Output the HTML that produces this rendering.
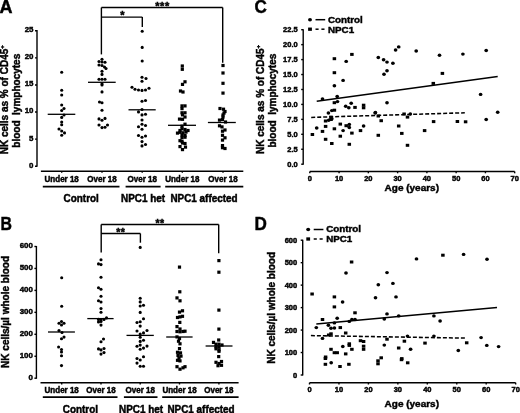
<!DOCTYPE html>
<html><head><meta charset="utf-8"><style>
html,body{margin:0;padding:0;background:#fff;}
svg{display:block;filter:blur(0.4px);}
</style></head><body>
<svg width="520" height="413" viewBox="0 0 520 413" fill="#000">
<text x="-0.50" y="12.80" font-size="18" text-anchor="start" font-family="Liberation Sans" font-weight="bold" stroke="#000" stroke-width="0.45" >A</text>
<line x1="37.00" y1="30.00" x2="37.00" y2="166.70" stroke="#000" stroke-width="1.4"/>
<line x1="35.00" y1="30.80" x2="37.00" y2="30.80" stroke="#000" stroke-width="1.4"/>
<text x="33.50" y="32.20" font-size="7.9" text-anchor="end" font-family="Liberation Sans" font-weight="bold" stroke="#000" stroke-width="0.45" >25</text>
<line x1="35.00" y1="57.88" x2="37.00" y2="57.88" stroke="#000" stroke-width="1.4"/>
<text x="33.50" y="59.28" font-size="7.9" text-anchor="end" font-family="Liberation Sans" font-weight="bold" stroke="#000" stroke-width="0.45" >20</text>
<line x1="35.00" y1="84.96" x2="37.00" y2="84.96" stroke="#000" stroke-width="1.4"/>
<text x="33.50" y="86.36" font-size="7.9" text-anchor="end" font-family="Liberation Sans" font-weight="bold" stroke="#000" stroke-width="0.45" >15</text>
<line x1="35.00" y1="112.04" x2="37.00" y2="112.04" stroke="#000" stroke-width="1.4"/>
<text x="33.50" y="113.44" font-size="7.9" text-anchor="end" font-family="Liberation Sans" font-weight="bold" stroke="#000" stroke-width="0.45" >10</text>
<line x1="35.00" y1="139.12" x2="37.00" y2="139.12" stroke="#000" stroke-width="1.4"/>
<text x="33.50" y="140.52" font-size="7.9" text-anchor="end" font-family="Liberation Sans" font-weight="bold" stroke="#000" stroke-width="0.45" >5</text>
<line x1="35.00" y1="166.20" x2="37.00" y2="166.20" stroke="#000" stroke-width="1.4"/>
<text x="33.50" y="167.60" font-size="7.9" text-anchor="end" font-family="Liberation Sans" font-weight="bold" stroke="#000" stroke-width="0.45" >0</text>
<line x1="40.90" y1="171.20" x2="243.30" y2="171.20" stroke="#000" stroke-width="1.4"/>
<line x1="61.70" y1="171.20" x2="61.70" y2="172.80" stroke="#000" stroke-width="1.4"/>
<line x1="102.00" y1="171.20" x2="102.00" y2="172.80" stroke="#000" stroke-width="1.4"/>
<line x1="142.20" y1="171.20" x2="142.20" y2="172.80" stroke="#000" stroke-width="1.4"/>
<line x1="182.30" y1="171.20" x2="182.30" y2="172.80" stroke="#000" stroke-width="1.4"/>
<line x1="223.00" y1="171.20" x2="223.00" y2="172.80" stroke="#000" stroke-width="1.4"/>
<text transform="translate(61.70,181.60) scale(1.0,1.04)" font-size="8.0" text-anchor="middle" font-family="Liberation Sans" font-weight="bold" stroke="#000" stroke-width="0.45" >Under 18</text>
<text transform="translate(102.00,181.60) scale(1.0,1.04)" font-size="8.0" text-anchor="middle" font-family="Liberation Sans" font-weight="bold" stroke="#000" stroke-width="0.45" >Over 18</text>
<text transform="translate(142.20,181.60) scale(1.0,1.04)" font-size="8.0" text-anchor="middle" font-family="Liberation Sans" font-weight="bold" stroke="#000" stroke-width="0.45" >Over 18</text>
<text transform="translate(182.30,181.60) scale(1.0,1.04)" font-size="8.0" text-anchor="middle" font-family="Liberation Sans" font-weight="bold" stroke="#000" stroke-width="0.45" >Under 18</text>
<text transform="translate(223.00,181.60) scale(1.0,1.04)" font-size="8.0" text-anchor="middle" font-family="Liberation Sans" font-weight="bold" stroke="#000" stroke-width="0.45" >Over 18</text>
<line x1="42.80" y1="186.70" x2="119.50" y2="186.70" stroke="#000" stroke-width="1.8"/>
<line x1="125.60" y1="186.70" x2="160.60" y2="186.70" stroke="#000" stroke-width="1.8"/>
<line x1="165.20" y1="186.70" x2="243.30" y2="186.70" stroke="#000" stroke-width="1.8"/>
<text transform="translate(81.20,201.80) scale(1.0,1.08)" font-size="9.9" text-anchor="middle" font-family="Liberation Sans" font-weight="bold" stroke="#000" stroke-width="0.45" >Control</text>
<text transform="translate(143.00,201.80) scale(1.0,1.08)" font-size="9.9" text-anchor="middle" font-family="Liberation Sans" font-weight="bold" stroke="#000" stroke-width="0.45" >NPC1 het</text>
<text transform="translate(204.00,201.80) scale(1.0,1.08)" font-size="9.9" text-anchor="middle" font-family="Liberation Sans" font-weight="bold" stroke="#000" stroke-width="0.45" >NPC1 affected</text>
<line x1="101.40" y1="7.50" x2="222.70" y2="7.50" stroke="#000" stroke-width="1.4"/>
<line x1="101.40" y1="7.50" x2="101.40" y2="54.40" stroke="#000" stroke-width="1.4"/>
<line x1="222.70" y1="7.50" x2="222.70" y2="62.70" stroke="#000" stroke-width="1.4"/>
<line x1="101.40" y1="17.10" x2="142.30" y2="17.10" stroke="#000" stroke-width="1.4"/>
<line x1="142.30" y1="17.10" x2="142.30" y2="27.00" stroke="#000" stroke-width="1.4"/>
<text x="162.50" y="9.60" font-size="11" text-anchor="middle" font-family="Liberation Sans" font-weight="bold" stroke="#000" stroke-width="0.45" letter-spacing="0.6">***</text>
<text x="122.30" y="19.00" font-size="11" text-anchor="middle" font-family="Liberation Sans" font-weight="bold" stroke="#000" stroke-width="0.45" >*</text>
<line x1="47.70" y1="114.30" x2="75.30" y2="114.30" stroke="#000" stroke-width="1.3"/>
<line x1="88.00" y1="82.30" x2="115.70" y2="82.30" stroke="#000" stroke-width="1.3"/>
<line x1="128.50" y1="109.80" x2="155.70" y2="109.80" stroke="#000" stroke-width="1.3"/>
<line x1="168.00" y1="125.30" x2="196.00" y2="125.30" stroke="#000" stroke-width="1.3"/>
<line x1="207.90" y1="122.50" x2="235.80" y2="122.50" stroke="#000" stroke-width="1.3"/>
<text transform="translate(8,154.3) rotate(-90)" font-size="10" font-family="Liberation Sans" font-weight="bold" stroke="#000" stroke-width="0.45">NK cells as % of CD45<tspan font-size="6" dy="-4">+</tspan></text>
<text transform="translate(19.8,147.7) rotate(-90)" font-size="10" font-family="Liberation Sans" font-weight="bold" stroke="#000" stroke-width="0.45">blood&#160; lymphocytes</text>
<circle cx="61.7" cy="72.2" r="1.55"/>
<circle cx="61.7" cy="90.3" r="1.55"/>
<circle cx="61.7" cy="95" r="1.55"/>
<circle cx="61.7" cy="105" r="1.55"/>
<circle cx="64" cy="108.5" r="1.55"/>
<circle cx="61.7" cy="110.5" r="1.55"/>
<circle cx="64" cy="115" r="1.55"/>
<circle cx="61.7" cy="117.4" r="1.55"/>
<circle cx="61.7" cy="122" r="1.55"/>
<circle cx="61.7" cy="124.8" r="1.55"/>
<circle cx="59" cy="129" r="1.55"/>
<circle cx="61.7" cy="131" r="1.55"/>
<circle cx="64.5" cy="132.9" r="1.55"/>
<circle cx="61.7" cy="135.3" r="1.55"/>
<circle cx="102" cy="59.3" r="1.55"/>
<circle cx="99" cy="61.5" r="1.55"/>
<circle cx="102" cy="62" r="1.55"/>
<circle cx="105" cy="62.3" r="1.55"/>
<circle cx="99" cy="65" r="1.55"/>
<circle cx="102" cy="65.5" r="1.55"/>
<circle cx="104.5" cy="67" r="1.55"/>
<circle cx="106" cy="68.5" r="1.55"/>
<circle cx="102" cy="71.2" r="1.55"/>
<circle cx="102" cy="74.4" r="1.55"/>
<circle cx="99" cy="79.2" r="1.55"/>
<circle cx="102" cy="79.2" r="1.55"/>
<circle cx="105" cy="79.2" r="1.55"/>
<circle cx="102" cy="83.8" r="1.55"/>
<circle cx="102" cy="85" r="1.55"/>
<circle cx="102" cy="91.9" r="1.55"/>
<circle cx="99.5" cy="102" r="1.55"/>
<circle cx="102" cy="102.7" r="1.55"/>
<circle cx="102" cy="110.2" r="1.55"/>
<circle cx="99" cy="118.9" r="1.55"/>
<circle cx="102" cy="120.2" r="1.55"/>
<circle cx="105" cy="118.4" r="1.55"/>
<circle cx="99" cy="125" r="1.55"/>
<circle cx="102" cy="127.6" r="1.55"/>
<circle cx="105" cy="127.2" r="1.55"/>
<circle cx="107.5" cy="125" r="1.55"/>
<circle cx="142.2" cy="31.3" r="1.55"/>
<circle cx="142.2" cy="47.4" r="1.55"/>
<circle cx="142.2" cy="61" r="1.55"/>
<circle cx="142" cy="77.3" r="1.55"/>
<circle cx="146" cy="78.5" r="1.55"/>
<circle cx="142" cy="81.2" r="1.55"/>
<circle cx="132" cy="87.2" r="1.55"/>
<circle cx="135" cy="89.2" r="1.55"/>
<circle cx="138.5" cy="90" r="1.55"/>
<circle cx="142" cy="90.4" r="1.55"/>
<circle cx="145.5" cy="90" r="1.55"/>
<circle cx="149" cy="88.2" r="1.55"/>
<circle cx="142" cy="101.3" r="1.55"/>
<circle cx="145.5" cy="100.5" r="1.55"/>
<circle cx="142" cy="109.5" r="1.55"/>
<circle cx="138.5" cy="111.9" r="1.55"/>
<circle cx="142" cy="114.9" r="1.55"/>
<circle cx="145.5" cy="114.3" r="1.55"/>
<circle cx="142" cy="120" r="1.55"/>
<circle cx="142" cy="124.3" r="1.55"/>
<circle cx="145.5" cy="125.5" r="1.55"/>
<circle cx="138.5" cy="126.8" r="1.55"/>
<circle cx="142" cy="129.2" r="1.55"/>
<circle cx="138.5" cy="135.5" r="1.55"/>
<circle cx="142" cy="137.3" r="1.55"/>
<circle cx="145.5" cy="136" r="1.55"/>
<circle cx="142" cy="141.6" r="1.55"/>
<circle cx="142" cy="145.9" r="1.55"/>
<circle cx="145.5" cy="144.5" r="1.55"/>
<rect x="180.70" y="64.40" width="3.2" height="3.2"/>
<rect x="180.70" y="67.70" width="3.2" height="3.2"/>
<rect x="183.40" y="80.20" width="3.2" height="3.2"/>
<rect x="180.90" y="82.80" width="3.2" height="3.2"/>
<rect x="178.90" y="89.40" width="3.2" height="3.2"/>
<rect x="181.40" y="90.40" width="3.2" height="3.2"/>
<rect x="180.40" y="104.30" width="3.2" height="3.2"/>
<rect x="183.40" y="104.30" width="3.2" height="3.2"/>
<rect x="180.40" y="107.00" width="3.2" height="3.2"/>
<rect x="180.40" y="111.20" width="3.2" height="3.2"/>
<rect x="183.40" y="111.20" width="3.2" height="3.2"/>
<rect x="180.90" y="113.20" width="3.2" height="3.2"/>
<rect x="183.40" y="115.40" width="3.2" height="3.2"/>
<rect x="177.90" y="117.50" width="3.2" height="3.2"/>
<rect x="180.90" y="117.70" width="3.2" height="3.2"/>
<rect x="183.40" y="122.60" width="3.2" height="3.2"/>
<rect x="180.40" y="124.60" width="3.2" height="3.2"/>
<rect x="180.40" y="127.20" width="3.2" height="3.2"/>
<rect x="183.40" y="127.90" width="3.2" height="3.2"/>
<rect x="178.40" y="128.90" width="3.2" height="3.2"/>
<rect x="186.40" y="128.90" width="3.2" height="3.2"/>
<rect x="175.90" y="131.50" width="3.2" height="3.2"/>
<rect x="178.40" y="130.70" width="3.2" height="3.2"/>
<rect x="181.40" y="131.20" width="3.2" height="3.2"/>
<rect x="184.40" y="130.50" width="3.2" height="3.2"/>
<rect x="180.40" y="133.30" width="3.2" height="3.2"/>
<rect x="183.40" y="134.00" width="3.2" height="3.2"/>
<rect x="180.40" y="136.00" width="3.2" height="3.2"/>
<rect x="183.40" y="135.60" width="3.2" height="3.2"/>
<rect x="178.40" y="139.10" width="3.2" height="3.2"/>
<rect x="180.40" y="139.70" width="3.2" height="3.2"/>
<rect x="180.90" y="141.40" width="3.2" height="3.2"/>
<rect x="183.40" y="141.90" width="3.2" height="3.2"/>
<rect x="178.40" y="145.00" width="3.2" height="3.2"/>
<rect x="183.90" y="145.50" width="3.2" height="3.2"/>
<rect x="180.90" y="148.00" width="3.2" height="3.2"/>
<rect x="221.40" y="63.90" width="3.2" height="3.2"/>
<rect x="221.40" y="71.40" width="3.2" height="3.2"/>
<rect x="221.40" y="81.70" width="3.2" height="3.2"/>
<rect x="221.40" y="91.50" width="3.2" height="3.2"/>
<rect x="218.40" y="106.90" width="3.2" height="3.2"/>
<rect x="221.90" y="107.60" width="3.2" height="3.2"/>
<rect x="223.40" y="109.90" width="3.2" height="3.2"/>
<rect x="222.40" y="111.50" width="3.2" height="3.2"/>
<rect x="221.40" y="113.40" width="3.2" height="3.2"/>
<rect x="221.40" y="115.40" width="3.2" height="3.2"/>
<rect x="217.90" y="118.50" width="3.2" height="3.2"/>
<rect x="220.90" y="117.90" width="3.2" height="3.2"/>
<rect x="223.90" y="120.40" width="3.2" height="3.2"/>
<rect x="217.90" y="124.20" width="3.2" height="3.2"/>
<rect x="220.40" y="125.30" width="3.2" height="3.2"/>
<rect x="223.40" y="128.40" width="3.2" height="3.2"/>
<rect x="220.90" y="129.60" width="3.2" height="3.2"/>
<rect x="220.90" y="133.70" width="3.2" height="3.2"/>
<rect x="223.40" y="136.20" width="3.2" height="3.2"/>
<rect x="220.90" y="138.50" width="3.2" height="3.2"/>
<rect x="220.90" y="144.00" width="3.2" height="3.2"/>
<rect x="220.90" y="146.10" width="3.2" height="3.2"/>
<rect x="223.40" y="146.90" width="3.2" height="3.2"/>
<text transform="translate(0.60,230.20) scale(0.88,1.0)" font-size="18" text-anchor="start" font-family="Liberation Sans" font-weight="bold" stroke="#000" stroke-width="0.45" >B</text>
<line x1="36.40" y1="246.00" x2="36.40" y2="378.80" stroke="#000" stroke-width="1.4"/>
<line x1="34.40" y1="246.50" x2="36.40" y2="246.50" stroke="#000" stroke-width="1.4"/>
<text x="32.90" y="247.90" font-size="7.9" text-anchor="end" font-family="Liberation Sans" font-weight="bold" stroke="#000" stroke-width="0.45" >600</text>
<line x1="34.40" y1="268.45" x2="36.40" y2="268.45" stroke="#000" stroke-width="1.4"/>
<text x="32.90" y="269.85" font-size="7.9" text-anchor="end" font-family="Liberation Sans" font-weight="bold" stroke="#000" stroke-width="0.45" >500</text>
<line x1="34.40" y1="290.40" x2="36.40" y2="290.40" stroke="#000" stroke-width="1.4"/>
<text x="32.90" y="291.80" font-size="7.9" text-anchor="end" font-family="Liberation Sans" font-weight="bold" stroke="#000" stroke-width="0.45" >400</text>
<line x1="34.40" y1="312.35" x2="36.40" y2="312.35" stroke="#000" stroke-width="1.4"/>
<text x="32.90" y="313.75" font-size="7.9" text-anchor="end" font-family="Liberation Sans" font-weight="bold" stroke="#000" stroke-width="0.45" >300</text>
<line x1="34.40" y1="334.30" x2="36.40" y2="334.30" stroke="#000" stroke-width="1.4"/>
<text x="32.90" y="335.70" font-size="7.9" text-anchor="end" font-family="Liberation Sans" font-weight="bold" stroke="#000" stroke-width="0.45" >200</text>
<line x1="34.40" y1="356.25" x2="36.40" y2="356.25" stroke="#000" stroke-width="1.4"/>
<text x="32.90" y="357.65" font-size="7.9" text-anchor="end" font-family="Liberation Sans" font-weight="bold" stroke="#000" stroke-width="0.45" >100</text>
<line x1="34.40" y1="378.20" x2="36.40" y2="378.20" stroke="#000" stroke-width="1.4"/>
<text x="32.90" y="379.60" font-size="7.9" text-anchor="end" font-family="Liberation Sans" font-weight="bold" stroke="#000" stroke-width="0.45" >0</text>
<line x1="40.50" y1="382.70" x2="238.60" y2="382.70" stroke="#000" stroke-width="1.4"/>
<line x1="61.70" y1="382.70" x2="61.70" y2="384.50" stroke="#000" stroke-width="1.4"/>
<line x1="101.00" y1="382.70" x2="101.00" y2="384.50" stroke="#000" stroke-width="1.4"/>
<line x1="140.20" y1="382.70" x2="140.20" y2="384.50" stroke="#000" stroke-width="1.4"/>
<line x1="179.50" y1="382.70" x2="179.50" y2="384.50" stroke="#000" stroke-width="1.4"/>
<line x1="218.90" y1="382.70" x2="218.90" y2="384.50" stroke="#000" stroke-width="1.4"/>
<text transform="translate(61.70,393.00) scale(1.0,1.04)" font-size="8.0" text-anchor="middle" font-family="Liberation Sans" font-weight="bold" stroke="#000" stroke-width="0.45" >Under 18</text>
<text transform="translate(101.00,393.00) scale(1.0,1.04)" font-size="8.0" text-anchor="middle" font-family="Liberation Sans" font-weight="bold" stroke="#000" stroke-width="0.45" >Over 18</text>
<text transform="translate(140.20,393.00) scale(1.0,1.04)" font-size="8.0" text-anchor="middle" font-family="Liberation Sans" font-weight="bold" stroke="#000" stroke-width="0.45" >Over 18</text>
<text transform="translate(179.50,393.00) scale(1.0,1.04)" font-size="8.0" text-anchor="middle" font-family="Liberation Sans" font-weight="bold" stroke="#000" stroke-width="0.45" >Under 18</text>
<text transform="translate(218.90,393.00) scale(1.0,1.04)" font-size="8.0" text-anchor="middle" font-family="Liberation Sans" font-weight="bold" stroke="#000" stroke-width="0.45" >Over 18</text>
<line x1="42.80" y1="397.10" x2="117.50" y2="397.10" stroke="#000" stroke-width="1.8"/>
<line x1="123.90" y1="397.10" x2="157.50" y2="397.10" stroke="#000" stroke-width="1.8"/>
<line x1="162.20" y1="397.10" x2="238.60" y2="397.10" stroke="#000" stroke-width="1.8"/>
<text transform="translate(80.40,413.10) scale(1.0,1.08)" font-size="9.9" text-anchor="middle" font-family="Liberation Sans" font-weight="bold" stroke="#000" stroke-width="0.45" >Control</text>
<text transform="translate(141.00,413.10) scale(1.0,1.08)" font-size="9.9" text-anchor="middle" font-family="Liberation Sans" font-weight="bold" stroke="#000" stroke-width="0.45" >NPC1 het</text>
<text transform="translate(201.00,413.10) scale(1.0,1.08)" font-size="9.9" text-anchor="middle" font-family="Liberation Sans" font-weight="bold" stroke="#000" stroke-width="0.45" >NPC1 affected</text>
<line x1="101.20" y1="224.50" x2="218.70" y2="224.50" stroke="#000" stroke-width="1.4"/>
<line x1="101.20" y1="224.50" x2="101.20" y2="252.60" stroke="#000" stroke-width="1.4"/>
<line x1="218.70" y1="224.50" x2="218.70" y2="253.20" stroke="#000" stroke-width="1.4"/>
<line x1="101.20" y1="233.50" x2="140.40" y2="233.50" stroke="#000" stroke-width="1.4"/>
<line x1="140.40" y1="233.50" x2="140.40" y2="242.70" stroke="#000" stroke-width="1.4"/>
<text x="160.00" y="227.00" font-size="10.5" text-anchor="middle" font-family="Liberation Sans" font-weight="bold" stroke="#000" stroke-width="0.45" letter-spacing="0.5">**</text>
<text x="120.80" y="236.30" font-size="10.5" text-anchor="middle" font-family="Liberation Sans" font-weight="bold" stroke="#000" stroke-width="0.45" letter-spacing="0.5">**</text>
<line x1="48.00" y1="332.00" x2="74.90" y2="332.00" stroke="#000" stroke-width="1.3"/>
<line x1="87.30" y1="318.60" x2="113.60" y2="318.60" stroke="#000" stroke-width="1.3"/>
<line x1="126.50" y1="335.40" x2="153.80" y2="335.40" stroke="#000" stroke-width="1.3"/>
<line x1="166.20" y1="337.00" x2="192.60" y2="337.00" stroke="#000" stroke-width="1.3"/>
<line x1="205.60" y1="346.00" x2="232.50" y2="346.00" stroke="#000" stroke-width="1.3"/>
<text transform="translate(8.8,367.9) rotate(-90)" font-size="10" font-family="Liberation Sans" font-weight="bold" stroke="#000" stroke-width="0.45">NK cells/µl whole blood</text>
<circle cx="61.7" cy="277.8" r="1.55"/>
<circle cx="61.7" cy="306.2" r="1.55"/>
<circle cx="59" cy="323.3" r="1.55"/>
<circle cx="61.5" cy="321.5" r="1.55"/>
<circle cx="64" cy="323.3" r="1.55"/>
<circle cx="61.5" cy="325" r="1.55"/>
<circle cx="59" cy="330.6" r="1.55"/>
<circle cx="62" cy="332.5" r="1.55"/>
<circle cx="64" cy="337.1" r="1.55"/>
<circle cx="61.5" cy="338.8" r="1.55"/>
<circle cx="58.6" cy="347" r="1.55"/>
<circle cx="61.5" cy="349.5" r="1.55"/>
<circle cx="61.5" cy="352" r="1.55"/>
<circle cx="61.5" cy="355.8" r="1.55"/>
<circle cx="61.5" cy="365.6" r="1.55"/>
<circle cx="101" cy="259.8" r="1.55"/>
<circle cx="98.5" cy="263.9" r="1.55"/>
<circle cx="101" cy="264.6" r="1.55"/>
<circle cx="101" cy="277.3" r="1.55"/>
<circle cx="98.5" cy="287.7" r="1.55"/>
<circle cx="101" cy="289.3" r="1.55"/>
<circle cx="101" cy="296.2" r="1.55"/>
<circle cx="98.5" cy="300.8" r="1.55"/>
<circle cx="101" cy="302" r="1.55"/>
<circle cx="101" cy="308.5" r="1.55"/>
<circle cx="101" cy="312.2" r="1.55"/>
<circle cx="98.5" cy="319.4" r="1.55"/>
<circle cx="101" cy="319.7" r="1.55"/>
<circle cx="104" cy="319.4" r="1.55"/>
<circle cx="106.5" cy="317.9" r="1.55"/>
<circle cx="98.5" cy="321.9" r="1.55"/>
<circle cx="101" cy="321.5" r="1.55"/>
<circle cx="101" cy="325.1" r="1.55"/>
<circle cx="103.5" cy="339" r="1.55"/>
<circle cx="101" cy="341.7" r="1.55"/>
<circle cx="98.5" cy="348.9" r="1.55"/>
<circle cx="101" cy="349.9" r="1.55"/>
<circle cx="104" cy="348.5" r="1.55"/>
<circle cx="104" cy="352.6" r="1.55"/>
<circle cx="101" cy="354.1" r="1.55"/>
<circle cx="140.2" cy="247.4" r="1.55"/>
<circle cx="140.2" cy="298.2" r="1.55"/>
<circle cx="140.2" cy="301.9" r="1.55"/>
<circle cx="140.2" cy="306" r="1.55"/>
<circle cx="143.5" cy="305.2" r="1.55"/>
<circle cx="140.2" cy="312.4" r="1.55"/>
<circle cx="143.5" cy="318.8" r="1.55"/>
<circle cx="137" cy="322.5" r="1.55"/>
<circle cx="140.2" cy="321.8" r="1.55"/>
<circle cx="140.2" cy="326.1" r="1.55"/>
<circle cx="137" cy="331" r="1.55"/>
<circle cx="143.5" cy="332.9" r="1.55"/>
<circle cx="147" cy="330.5" r="1.55"/>
<circle cx="140.2" cy="334.1" r="1.55"/>
<circle cx="140.2" cy="337.3" r="1.55"/>
<circle cx="140.2" cy="341.4" r="1.55"/>
<circle cx="143.5" cy="340.2" r="1.55"/>
<circle cx="140.2" cy="345.1" r="1.55"/>
<circle cx="137" cy="346.3" r="1.55"/>
<circle cx="143.5" cy="348.1" r="1.55"/>
<circle cx="147" cy="346.1" r="1.55"/>
<circle cx="140.2" cy="349.3" r="1.55"/>
<circle cx="143.5" cy="356.7" r="1.55"/>
<circle cx="137" cy="358.5" r="1.55"/>
<circle cx="140.2" cy="360" r="1.55"/>
<circle cx="137" cy="363.1" r="1.55"/>
<circle cx="140.2" cy="366.2" r="1.55"/>
<circle cx="143.5" cy="366.2" r="1.55"/>
<rect x="177.90" y="265.50" width="3.2" height="3.2"/>
<rect x="178.20" y="290.20" width="3.2" height="3.2"/>
<rect x="175.40" y="296.30" width="3.2" height="3.2"/>
<rect x="178.40" y="299.20" width="3.2" height="3.2"/>
<rect x="180.90" y="309.20" width="3.2" height="3.2"/>
<rect x="177.90" y="310.50" width="3.2" height="3.2"/>
<rect x="175.90" y="315.90" width="3.2" height="3.2"/>
<rect x="178.40" y="315.30" width="3.2" height="3.2"/>
<rect x="180.90" y="314.70" width="3.2" height="3.2"/>
<rect x="178.20" y="320.80" width="3.2" height="3.2"/>
<rect x="175.40" y="325.00" width="3.2" height="3.2"/>
<rect x="178.40" y="327.40" width="3.2" height="3.2"/>
<rect x="175.40" y="329.90" width="3.2" height="3.2"/>
<rect x="178.40" y="330.20" width="3.2" height="3.2"/>
<rect x="181.40" y="329.90" width="3.2" height="3.2"/>
<rect x="183.40" y="329.60" width="3.2" height="3.2"/>
<rect x="175.40" y="335.30" width="3.2" height="3.2"/>
<rect x="177.90" y="336.90" width="3.2" height="3.2"/>
<rect x="176.90" y="339.60" width="3.2" height="3.2"/>
<rect x="178.40" y="342.20" width="3.2" height="3.2"/>
<rect x="177.90" y="347.00" width="3.2" height="3.2"/>
<rect x="175.90" y="350.70" width="3.2" height="3.2"/>
<rect x="178.90" y="351.30" width="3.2" height="3.2"/>
<rect x="176.40" y="353.90" width="3.2" height="3.2"/>
<rect x="179.40" y="354.50" width="3.2" height="3.2"/>
<rect x="177.40" y="356.60" width="3.2" height="3.2"/>
<rect x="175.90" y="358.70" width="3.2" height="3.2"/>
<rect x="178.40" y="359.30" width="3.2" height="3.2"/>
<rect x="175.40" y="365.10" width="3.2" height="3.2"/>
<rect x="178.40" y="367.60" width="3.2" height="3.2"/>
<rect x="181.40" y="366.20" width="3.2" height="3.2"/>
<rect x="183.40" y="365.10" width="3.2" height="3.2"/>
<rect x="217.30" y="259.00" width="3.2" height="3.2"/>
<rect x="217.30" y="270.60" width="3.2" height="3.2"/>
<rect x="217.30" y="308.50" width="3.2" height="3.2"/>
<rect x="217.30" y="327.50" width="3.2" height="3.2"/>
<rect x="217.10" y="338.40" width="3.2" height="3.2"/>
<rect x="211.90" y="340.80" width="3.2" height="3.2"/>
<rect x="214.40" y="342.60" width="3.2" height="3.2"/>
<rect x="217.40" y="342.60" width="3.2" height="3.2"/>
<rect x="220.40" y="343.40" width="3.2" height="3.2"/>
<rect x="214.40" y="345.20" width="3.2" height="3.2"/>
<rect x="217.40" y="345.40" width="3.2" height="3.2"/>
<rect x="214.40" y="347.20" width="3.2" height="3.2"/>
<rect x="217.40" y="348.20" width="3.2" height="3.2"/>
<rect x="217.40" y="349.70" width="3.2" height="3.2"/>
<rect x="217.10" y="355.00" width="3.2" height="3.2"/>
<rect x="214.40" y="360.70" width="3.2" height="3.2"/>
<rect x="219.90" y="359.90" width="3.2" height="3.2"/>
<rect x="217.40" y="361.90" width="3.2" height="3.2"/>
<rect x="219.90" y="363.70" width="3.2" height="3.2"/>
<rect x="216.40" y="364.10" width="3.2" height="3.2"/>
<text transform="translate(254.40,12.70) scale(0.95,1.0)" font-size="18" text-anchor="start" font-family="Liberation Sans" font-weight="bold" stroke="#000" stroke-width="0.45" >C</text>
<line x1="303.20" y1="29.30" x2="303.20" y2="164.70" stroke="#000" stroke-width="1.4"/>
<line x1="301.20" y1="29.70" x2="303.20" y2="29.70" stroke="#000" stroke-width="1.4"/>
<text x="297.70" y="32.30" font-size="7.5" text-anchor="end" font-family="Liberation Sans" font-weight="bold" stroke="#000" stroke-width="0.45" >22.5</text>
<line x1="301.20" y1="44.64" x2="303.20" y2="44.64" stroke="#000" stroke-width="1.4"/>
<text x="297.70" y="47.24" font-size="7.5" text-anchor="end" font-family="Liberation Sans" font-weight="bold" stroke="#000" stroke-width="0.45" >20.0</text>
<line x1="301.20" y1="59.59" x2="303.20" y2="59.59" stroke="#000" stroke-width="1.4"/>
<text x="297.70" y="62.19" font-size="7.5" text-anchor="end" font-family="Liberation Sans" font-weight="bold" stroke="#000" stroke-width="0.45" >17.5</text>
<line x1="301.20" y1="74.53" x2="303.20" y2="74.53" stroke="#000" stroke-width="1.4"/>
<text x="297.70" y="77.13" font-size="7.5" text-anchor="end" font-family="Liberation Sans" font-weight="bold" stroke="#000" stroke-width="0.45" >15.0</text>
<line x1="301.20" y1="89.48" x2="303.20" y2="89.48" stroke="#000" stroke-width="1.4"/>
<text x="297.70" y="92.08" font-size="7.5" text-anchor="end" font-family="Liberation Sans" font-weight="bold" stroke="#000" stroke-width="0.45" >12.5</text>
<line x1="301.20" y1="104.42" x2="303.20" y2="104.42" stroke="#000" stroke-width="1.4"/>
<text x="297.70" y="107.02" font-size="7.5" text-anchor="end" font-family="Liberation Sans" font-weight="bold" stroke="#000" stroke-width="0.45" >10.0</text>
<line x1="301.20" y1="119.37" x2="303.20" y2="119.37" stroke="#000" stroke-width="1.4"/>
<text x="297.70" y="121.97" font-size="7.5" text-anchor="end" font-family="Liberation Sans" font-weight="bold" stroke="#000" stroke-width="0.45" >7.5</text>
<line x1="301.20" y1="134.31" x2="303.20" y2="134.31" stroke="#000" stroke-width="1.4"/>
<text x="297.70" y="136.91" font-size="7.5" text-anchor="end" font-family="Liberation Sans" font-weight="bold" stroke="#000" stroke-width="0.45" >5.0</text>
<line x1="301.20" y1="149.26" x2="303.20" y2="149.26" stroke="#000" stroke-width="1.4"/>
<text x="297.70" y="151.86" font-size="7.5" text-anchor="end" font-family="Liberation Sans" font-weight="bold" stroke="#000" stroke-width="0.45" >2.5</text>
<line x1="301.20" y1="164.20" x2="303.20" y2="164.20" stroke="#000" stroke-width="1.4"/>
<text x="297.70" y="166.80" font-size="7.5" text-anchor="end" font-family="Liberation Sans" font-weight="bold" stroke="#000" stroke-width="0.45" >0.0</text>
<line x1="309.80" y1="171.50" x2="514.69" y2="171.50" stroke="#000" stroke-width="1.4"/>
<line x1="309.80" y1="171.50" x2="309.80" y2="173.30" stroke="#000" stroke-width="1.4"/>
<text x="309.80" y="181.00" font-size="7.5" text-anchor="middle" font-family="Liberation Sans" font-weight="bold" stroke="#000" stroke-width="0.45" >0</text>
<line x1="339.07" y1="171.50" x2="339.07" y2="173.30" stroke="#000" stroke-width="1.4"/>
<text x="339.07" y="181.00" font-size="7.5" text-anchor="middle" font-family="Liberation Sans" font-weight="bold" stroke="#000" stroke-width="0.45" >10</text>
<line x1="368.34" y1="171.50" x2="368.34" y2="173.30" stroke="#000" stroke-width="1.4"/>
<text x="368.34" y="181.00" font-size="7.5" text-anchor="middle" font-family="Liberation Sans" font-weight="bold" stroke="#000" stroke-width="0.45" >20</text>
<line x1="397.61" y1="171.50" x2="397.61" y2="173.30" stroke="#000" stroke-width="1.4"/>
<text x="397.61" y="181.00" font-size="7.5" text-anchor="middle" font-family="Liberation Sans" font-weight="bold" stroke="#000" stroke-width="0.45" >30</text>
<line x1="426.88" y1="171.50" x2="426.88" y2="173.30" stroke="#000" stroke-width="1.4"/>
<text x="426.88" y="181.00" font-size="7.5" text-anchor="middle" font-family="Liberation Sans" font-weight="bold" stroke="#000" stroke-width="0.45" >40</text>
<line x1="456.15" y1="171.50" x2="456.15" y2="173.30" stroke="#000" stroke-width="1.4"/>
<text x="456.15" y="181.00" font-size="7.5" text-anchor="middle" font-family="Liberation Sans" font-weight="bold" stroke="#000" stroke-width="0.45" >50</text>
<line x1="485.42" y1="171.50" x2="485.42" y2="173.30" stroke="#000" stroke-width="1.4"/>
<text x="485.42" y="181.00" font-size="7.5" text-anchor="middle" font-family="Liberation Sans" font-weight="bold" stroke="#000" stroke-width="0.45" >60</text>
<line x1="514.69" y1="171.50" x2="514.69" y2="173.30" stroke="#000" stroke-width="1.4"/>
<text x="514.69" y="181.00" font-size="7.5" text-anchor="middle" font-family="Liberation Sans" font-weight="bold" stroke="#000" stroke-width="0.45" >70</text>
<text transform="translate(411.80,191.30) scale(1.0,0.97)" font-size="10.0" text-anchor="middle" font-family="Liberation Sans" font-weight="bold" stroke="#000" stroke-width="0.45" >Age (years)</text>
<ellipse cx="310.0" cy="19.7" rx="2.0" ry="1.8"/>
<line x1="315.50" y1="19.70" x2="325.20" y2="19.70" stroke="#000" stroke-width="1.5"/>
<text x="328.00" y="22.50" font-size="9.8" text-anchor="start" font-family="Liberation Sans" font-weight="bold" stroke="#000" stroke-width="0.45" >Control</text>
<rect x="308.10" y="27.55" width="3.8" height="3.3"/>
<line x1="315.50" y1="29.20" x2="318.60" y2="29.20" stroke="#000" stroke-width="1.5"/>
<line x1="321.40" y1="29.20" x2="324.50" y2="29.20" stroke="#000" stroke-width="1.5"/>
<text x="328.00" y="32.60" font-size="9.8" text-anchor="start" font-family="Liberation Sans" font-weight="bold" stroke="#000" stroke-width="0.45" >NPC1</text>
<line x1="316.70" y1="101.20" x2="497.70" y2="76.40" stroke="#000" stroke-width="1.55"/>
<line x1="311.20" y1="117.40" x2="464.80" y2="112.80" stroke="#000" stroke-width="1.55" stroke-dasharray="4,2"/>
<rect x="332.65" y="57.20" width="3.5" height="3.0"/>
<rect x="350.15" y="52.90" width="3.5" height="3.0"/>
<ellipse cx="346.2" cy="61.4" rx="1.85" ry="1.7"/>
<ellipse cx="378.3" cy="57.5" rx="1.85" ry="1.7"/>
<rect x="332.65" y="71.20" width="3.5" height="3.0"/>
<ellipse cx="343.1" cy="80.4" rx="1.85" ry="1.7"/>
<ellipse cx="334.4" cy="85.7" rx="1.85" ry="1.7"/>
<ellipse cx="322.5" cy="99" rx="1.85" ry="1.7"/>
<ellipse cx="337.2" cy="96.5" rx="1.85" ry="1.7"/>
<rect x="332.65" y="101.20" width="3.5" height="3.0"/>
<ellipse cx="337.5" cy="101.6" rx="1.85" ry="1.7"/>
<ellipse cx="351.2" cy="103.2" rx="1.85" ry="1.7"/>
<ellipse cx="345.7" cy="106.3" rx="1.85" ry="1.7"/>
<ellipse cx="348.8" cy="107.8" rx="1.85" ry="1.7"/>
<rect x="353.25" y="105.90" width="3.5" height="3.0"/>
<rect x="361.85" y="103.70" width="3.5" height="3.0"/>
<rect x="361.85" y="106.30" width="3.5" height="3.0"/>
<ellipse cx="328.4" cy="113" rx="1.85" ry="1.7"/>
<ellipse cx="331.8" cy="110.6" rx="1.85" ry="1.7"/>
<rect x="332.65" y="108.70" width="3.5" height="3.0"/>
<rect x="329.25" y="115.60" width="3.5" height="3.0"/>
<ellipse cx="331.8" cy="118.7" rx="1.85" ry="1.7"/>
<rect x="323.85" y="119.50" width="3.5" height="3.0"/>
<ellipse cx="328.7" cy="120.2" rx="1.85" ry="1.7"/>
<rect x="329.25" y="118.00" width="3.5" height="3.0"/>
<ellipse cx="375.2" cy="113" rx="1.85" ry="1.7"/>
<rect x="376.55" y="114.50" width="3.5" height="3.0"/>
<ellipse cx="316.7" cy="128" rx="1.85" ry="1.7"/>
<rect x="323.85" y="124.90" width="3.5" height="3.0"/>
<rect x="310.65" y="133.00" width="3.5" height="3.0"/>
<rect x="320.75" y="129.90" width="3.5" height="3.0"/>
<rect x="332.65" y="127.30" width="3.5" height="3.0"/>
<rect x="338.55" y="122.60" width="3.5" height="3.0"/>
<ellipse cx="343.1" cy="130.6" rx="1.85" ry="1.7"/>
<rect x="344.45" y="124.20" width="3.5" height="3.0"/>
<ellipse cx="349.3" cy="124.4" rx="1.85" ry="1.7"/>
<ellipse cx="349.3" cy="127.5" rx="1.85" ry="1.7"/>
<rect x="350.15" y="131.60" width="3.5" height="3.0"/>
<rect x="358.75" y="129.10" width="3.5" height="3.0"/>
<ellipse cx="363.6" cy="126" rx="1.85" ry="1.7"/>
<rect x="323.85" y="137.80" width="3.5" height="3.0"/>
<rect x="338.55" y="134.70" width="3.5" height="3.0"/>
<rect x="330.05" y="142.00" width="3.5" height="3.0"/>
<rect x="347.55" y="142.80" width="3.5" height="3.0"/>
<rect x="376.55" y="133.80" width="3.5" height="3.0"/>
<ellipse cx="383.6" cy="59.8" rx="1.85" ry="1.7"/>
<ellipse cx="387" cy="62.1" rx="1.85" ry="1.7"/>
<ellipse cx="392.9" cy="63.2" rx="1.85" ry="1.7"/>
<ellipse cx="395.6" cy="50" rx="1.85" ry="1.7"/>
<ellipse cx="398.7" cy="46.9" rx="1.85" ry="1.7"/>
<ellipse cx="416.2" cy="51" rx="1.85" ry="1.7"/>
<ellipse cx="439.5" cy="55.2" rx="1.85" ry="1.7"/>
<ellipse cx="387" cy="70.7" rx="1.85" ry="1.7"/>
<ellipse cx="384" cy="74.2" rx="1.85" ry="1.7"/>
<rect x="440.65" y="71.90" width="3.5" height="3.0"/>
<rect x="431.55" y="81.90" width="3.5" height="3.0"/>
<ellipse cx="462.9" cy="54.1" rx="1.85" ry="1.7"/>
<ellipse cx="486.2" cy="50.5" rx="1.85" ry="1.7"/>
<ellipse cx="480.6" cy="94.4" rx="1.85" ry="1.7"/>
<ellipse cx="387" cy="102.7" rx="1.85" ry="1.7"/>
<ellipse cx="375.4" cy="112.5" rx="1.85" ry="1.7"/>
<rect x="379.45" y="119.20" width="3.5" height="3.0"/>
<rect x="402.35" y="112.50" width="3.5" height="3.0"/>
<ellipse cx="410.3" cy="114" rx="1.85" ry="1.7"/>
<rect x="405.75" y="115.60" width="3.5" height="3.0"/>
<rect x="396.95" y="124.50" width="3.5" height="3.0"/>
<rect x="400.05" y="131.90" width="3.5" height="3.0"/>
<rect x="422.85" y="129.10" width="3.5" height="3.0"/>
<rect x="431.85" y="120.10" width="3.5" height="3.0"/>
<rect x="405.75" y="143.80" width="3.5" height="3.0"/>
<rect x="455.65" y="120.00" width="3.5" height="3.0"/>
<rect x="463.85" y="120.30" width="3.5" height="3.0"/>
<ellipse cx="486.2" cy="119.5" rx="1.85" ry="1.7"/>
<ellipse cx="497.7" cy="112.2" rx="1.85" ry="1.7"/>
<text transform="translate(264.3,154) rotate(-90)" font-size="10" font-family="Liberation Sans" font-weight="bold" stroke="#000" stroke-width="0.45">NK cells as % of CD45<tspan font-size="6" dy="-4">+</tspan></text>
<text transform="translate(276.2,147.6) rotate(-90)" font-size="10" font-family="Liberation Sans" font-weight="bold" stroke="#000" stroke-width="0.45">blood&#160; lymphocytes</text>
<text transform="translate(254.50,230.30) scale(0.95,1.0)" font-size="18" text-anchor="start" font-family="Liberation Sans" font-weight="bold" stroke="#000" stroke-width="0.45" >D</text>
<line x1="302.70" y1="239.80" x2="302.70" y2="375.50" stroke="#000" stroke-width="1.4"/>
<line x1="300.70" y1="240.20" x2="302.70" y2="240.20" stroke="#000" stroke-width="1.4"/>
<text x="297.20" y="242.80" font-size="7.5" text-anchor="end" font-family="Liberation Sans" font-weight="bold" stroke="#000" stroke-width="0.45" >600</text>
<line x1="300.70" y1="262.67" x2="302.70" y2="262.67" stroke="#000" stroke-width="1.4"/>
<text x="297.20" y="265.27" font-size="7.5" text-anchor="end" font-family="Liberation Sans" font-weight="bold" stroke="#000" stroke-width="0.45" >500</text>
<line x1="300.70" y1="285.13" x2="302.70" y2="285.13" stroke="#000" stroke-width="1.4"/>
<text x="297.20" y="287.73" font-size="7.5" text-anchor="end" font-family="Liberation Sans" font-weight="bold" stroke="#000" stroke-width="0.45" >400</text>
<line x1="300.70" y1="307.60" x2="302.70" y2="307.60" stroke="#000" stroke-width="1.4"/>
<text x="297.20" y="310.20" font-size="7.5" text-anchor="end" font-family="Liberation Sans" font-weight="bold" stroke="#000" stroke-width="0.45" >300</text>
<line x1="300.70" y1="330.07" x2="302.70" y2="330.07" stroke="#000" stroke-width="1.4"/>
<text x="297.20" y="332.67" font-size="7.5" text-anchor="end" font-family="Liberation Sans" font-weight="bold" stroke="#000" stroke-width="0.45" >200</text>
<line x1="300.70" y1="352.53" x2="302.70" y2="352.53" stroke="#000" stroke-width="1.4"/>
<text x="297.20" y="355.13" font-size="7.5" text-anchor="end" font-family="Liberation Sans" font-weight="bold" stroke="#000" stroke-width="0.45" >100</text>
<line x1="300.70" y1="375.00" x2="302.70" y2="375.00" stroke="#000" stroke-width="1.4"/>
<text x="297.20" y="377.60" font-size="7.5" text-anchor="end" font-family="Liberation Sans" font-weight="bold" stroke="#000" stroke-width="0.45" >0</text>
<line x1="309.50" y1="382.70" x2="515.65" y2="382.70" stroke="#000" stroke-width="1.4"/>
<line x1="309.50" y1="382.70" x2="309.50" y2="384.50" stroke="#000" stroke-width="1.4"/>
<text x="309.50" y="392.20" font-size="7.5" text-anchor="middle" font-family="Liberation Sans" font-weight="bold" stroke="#000" stroke-width="0.45" >0</text>
<line x1="338.95" y1="382.70" x2="338.95" y2="384.50" stroke="#000" stroke-width="1.4"/>
<text x="338.95" y="392.20" font-size="7.5" text-anchor="middle" font-family="Liberation Sans" font-weight="bold" stroke="#000" stroke-width="0.45" >10</text>
<line x1="368.40" y1="382.70" x2="368.40" y2="384.50" stroke="#000" stroke-width="1.4"/>
<text x="368.40" y="392.20" font-size="7.5" text-anchor="middle" font-family="Liberation Sans" font-weight="bold" stroke="#000" stroke-width="0.45" >20</text>
<line x1="397.85" y1="382.70" x2="397.85" y2="384.50" stroke="#000" stroke-width="1.4"/>
<text x="397.85" y="392.20" font-size="7.5" text-anchor="middle" font-family="Liberation Sans" font-weight="bold" stroke="#000" stroke-width="0.45" >30</text>
<line x1="427.30" y1="382.70" x2="427.30" y2="384.50" stroke="#000" stroke-width="1.4"/>
<text x="427.30" y="392.20" font-size="7.5" text-anchor="middle" font-family="Liberation Sans" font-weight="bold" stroke="#000" stroke-width="0.45" >40</text>
<line x1="456.75" y1="382.70" x2="456.75" y2="384.50" stroke="#000" stroke-width="1.4"/>
<text x="456.75" y="392.20" font-size="7.5" text-anchor="middle" font-family="Liberation Sans" font-weight="bold" stroke="#000" stroke-width="0.45" >50</text>
<line x1="486.20" y1="382.70" x2="486.20" y2="384.50" stroke="#000" stroke-width="1.4"/>
<text x="486.20" y="392.20" font-size="7.5" text-anchor="middle" font-family="Liberation Sans" font-weight="bold" stroke="#000" stroke-width="0.45" >60</text>
<line x1="515.65" y1="382.70" x2="515.65" y2="384.50" stroke="#000" stroke-width="1.4"/>
<text x="515.65" y="392.20" font-size="7.5" text-anchor="middle" font-family="Liberation Sans" font-weight="bold" stroke="#000" stroke-width="0.45" >70</text>
<text transform="translate(411.80,407.00) scale(1.0,0.97)" font-size="10.0" text-anchor="middle" font-family="Liberation Sans" font-weight="bold" stroke="#000" stroke-width="0.45" >Age (years)</text>
<ellipse cx="308.2" cy="229.5" rx="2.0" ry="1.8"/>
<line x1="313.70" y1="229.50" x2="323.40" y2="229.50" stroke="#000" stroke-width="1.5"/>
<text x="326.20" y="232.30" font-size="9.8" text-anchor="start" font-family="Liberation Sans" font-weight="bold" stroke="#000" stroke-width="0.45" >Control</text>
<rect x="306.30" y="237.35" width="3.8" height="3.3"/>
<line x1="313.70" y1="239.00" x2="316.80" y2="239.00" stroke="#000" stroke-width="1.5"/>
<line x1="319.60" y1="239.00" x2="322.70" y2="239.00" stroke="#000" stroke-width="1.5"/>
<text x="326.20" y="242.40" font-size="9.8" text-anchor="start" font-family="Liberation Sans" font-weight="bold" stroke="#000" stroke-width="0.45" >NPC1</text>
<line x1="316.30" y1="324.00" x2="497.00" y2="307.40" stroke="#000" stroke-width="1.55"/>
<line x1="310.90" y1="335.60" x2="465.10" y2="338.10" stroke="#000" stroke-width="1.55" stroke-dasharray="4,2"/>
<rect x="349.85" y="260.50" width="3.5" height="3.0"/>
<ellipse cx="346" cy="273" rx="1.85" ry="1.7"/>
<ellipse cx="378.3" cy="284.7" rx="1.85" ry="1.7"/>
<rect x="310.35" y="292.50" width="3.5" height="3.0"/>
<rect x="332.65" y="295.40" width="3.5" height="3.0"/>
<ellipse cx="342.6" cy="302" rx="1.85" ry="1.7"/>
<ellipse cx="375.5" cy="297.8" rx="1.85" ry="1.7"/>
<rect x="332.65" y="305.40" width="3.5" height="3.0"/>
<rect x="353.25" y="311.30" width="3.5" height="3.0"/>
<rect x="320.75" y="318.00" width="3.5" height="3.0"/>
<ellipse cx="337.2" cy="318.3" rx="1.85" ry="1.7"/>
<ellipse cx="351.9" cy="319.5" rx="1.85" ry="1.7"/>
<ellipse cx="355" cy="319.5" rx="1.85" ry="1.7"/>
<ellipse cx="349.3" cy="321.4" rx="1.85" ry="1.7"/>
<ellipse cx="334.4" cy="322.9" rx="1.85" ry="1.7"/>
<ellipse cx="316.3" cy="327.6" rx="1.85" ry="1.7"/>
<ellipse cx="328.4" cy="325.2" rx="1.85" ry="1.7"/>
<ellipse cx="331" cy="328.3" rx="1.85" ry="1.7"/>
<ellipse cx="334.4" cy="328" rx="1.85" ry="1.7"/>
<rect x="338.55" y="326.10" width="3.5" height="3.0"/>
<rect x="329.25" y="332.30" width="3.5" height="3.0"/>
<rect x="326.95" y="333.50" width="3.5" height="3.0"/>
<rect x="343.95" y="331.50" width="3.5" height="3.0"/>
<ellipse cx="322.5" cy="338.4" rx="1.85" ry="1.7"/>
<rect x="358.75" y="339.20" width="3.5" height="3.0"/>
<rect x="361.85" y="340.00" width="3.5" height="3.0"/>
<rect x="347.55" y="342.30" width="3.5" height="3.0"/>
<rect x="347.55" y="343.90" width="3.5" height="3.0"/>
<ellipse cx="342.8" cy="346.5" rx="1.85" ry="1.7"/>
<rect x="361.85" y="344.70" width="3.5" height="3.0"/>
<rect x="361.85" y="347.80" width="3.5" height="3.0"/>
<rect x="350.15" y="347.80" width="3.5" height="3.0"/>
<rect x="329.25" y="347.80" width="3.5" height="3.0"/>
<rect x="332.65" y="351.20" width="3.5" height="3.0"/>
<rect x="335.45" y="351.20" width="3.5" height="3.0"/>
<rect x="343.95" y="352.40" width="3.5" height="3.0"/>
<rect x="323.85" y="355.50" width="3.5" height="3.0"/>
<rect x="323.65" y="357.00" width="3.5" height="3.0"/>
<rect x="323.65" y="362.80" width="3.5" height="3.0"/>
<ellipse cx="331.2" cy="362.8" rx="1.85" ry="1.7"/>
<rect x="338.25" y="365.00" width="3.5" height="3.0"/>
<rect x="347.15" y="362.80" width="3.5" height="3.0"/>
<ellipse cx="416.5" cy="258.9" rx="1.85" ry="1.7"/>
<rect x="441.15" y="253.70" width="3.5" height="3.0"/>
<ellipse cx="387" cy="272.6" rx="1.85" ry="1.7"/>
<ellipse cx="392.9" cy="283.4" rx="1.85" ry="1.7"/>
<ellipse cx="396" cy="296.9" rx="1.85" ry="1.7"/>
<ellipse cx="387" cy="313.9" rx="1.85" ry="1.7"/>
<ellipse cx="384.3" cy="319" rx="1.85" ry="1.7"/>
<ellipse cx="398.7" cy="315.9" rx="1.85" ry="1.7"/>
<ellipse cx="433.9" cy="315.9" rx="1.85" ry="1.7"/>
<ellipse cx="440.1" cy="321" rx="1.85" ry="1.7"/>
<rect x="385.25" y="337.70" width="3.5" height="3.0"/>
<ellipse cx="407.5" cy="336.1" rx="1.85" ry="1.7"/>
<ellipse cx="433.9" cy="336.1" rx="1.85" ry="1.7"/>
<rect x="402.65" y="339.70" width="3.5" height="3.0"/>
<rect x="423.25" y="341.60" width="3.5" height="3.0"/>
<ellipse cx="384.3" cy="345.1" rx="1.85" ry="1.7"/>
<rect x="396.95" y="346.50" width="3.5" height="3.0"/>
<ellipse cx="410.6" cy="349.3" rx="1.85" ry="1.7"/>
<rect x="379.45" y="356.30" width="3.5" height="3.0"/>
<rect x="400.05" y="357.10" width="3.5" height="3.0"/>
<ellipse cx="463.6" cy="254.4" rx="1.85" ry="1.7"/>
<ellipse cx="487" cy="259.2" rx="1.85" ry="1.7"/>
<rect x="464.95" y="341.30" width="3.5" height="3.0"/>
<ellipse cx="481.1" cy="337.6" rx="1.85" ry="1.7"/>
<ellipse cx="486.8" cy="345.4" rx="1.85" ry="1.7"/>
<ellipse cx="498.6" cy="346.6" rx="1.85" ry="1.7"/>
<ellipse cx="458.3" cy="350.5" rx="1.85" ry="1.7"/>
<rect x="376.25" y="359.30" width="3.5" height="3.0"/>
<rect x="376.25" y="362.30" width="3.5" height="3.0"/>
<rect x="399.75" y="358.20" width="3.5" height="3.0"/>
<rect x="405.95" y="361.30" width="3.5" height="3.0"/>
<text transform="translate(275.2,363.8) rotate(-90)" font-size="10" font-family="Liberation Sans" font-weight="bold" stroke="#000" stroke-width="0.45">NK cells/µl whole blood</text>
</svg>
</body></html>
